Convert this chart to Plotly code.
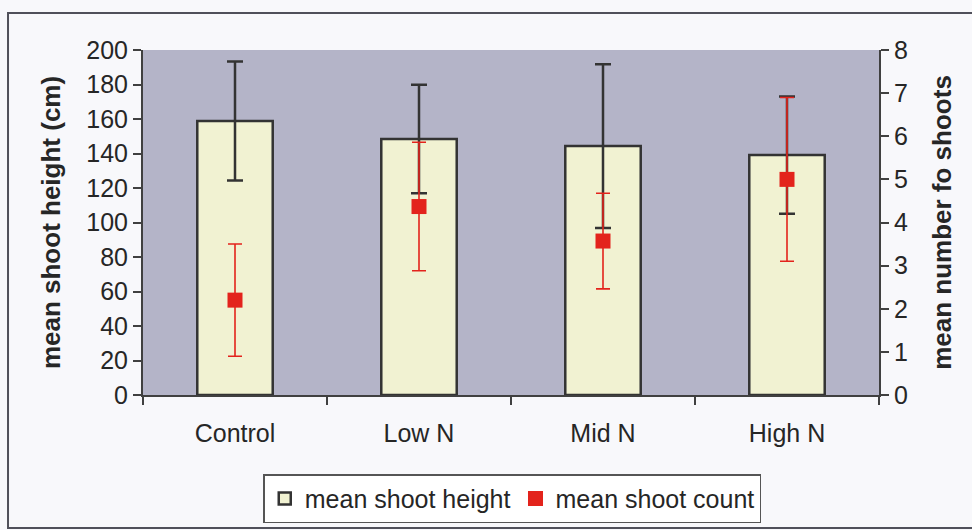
import plotly.graph_objects as go

# Treatments and measured means with their error ranges
treatments = ["Control", "Low N", "Mid N", "High N"]
height_mean = [158.8, 148.4, 144.3, 139.1]      # cm
height_err = [34.5, 31.4, 47.5, 34.0]
count_mean = [2.2, 4.37, 3.57, 5.0]             # shoots per plant
count_err = [1.3, 1.49, 1.11, 1.9]

left_ticks = list(range(0, 201, 20))
right_ticks = list(range(0, 9))

FONT = "Arial, Liberation Sans, sans-serif"
INK = "#262626"
AXIS = "#404040"
TICK_SIZE = 25
TITLE_SIZE = 26

fig = go.Figure()

fig.add_trace(go.Bar(
    x=treatments,
    y=height_mean,
    name="mean shoot height",
    marker=dict(color="#f1f2d2", line=dict(color="#333333", width=2.5)),
    error_y=dict(type="data", array=height_err, visible=True,
                 color="#333333", thickness=2.5, width=8),
    yaxis="y",
))

fig.add_trace(go.Scatter(
    x=treatments,
    y=count_mean,
    name="mean shoot count",
    mode="markers",
    marker=dict(symbol="square", size=15, color="#e3231c"),
    error_y=dict(type="data", array=count_err, visible=True,
                 color="#e3231c", thickness=1.6, width=7),
    yaxis="y2",
))

# Outer chart frame
fig.add_shape(type="rect", xref="paper", yref="paper",
              x0=-0.1834, x1=1.13, y0=-0.3855, y1=1.107,
              line=dict(color="#50505a", width=2), fillcolor="rgba(0,0,0,0)",
              layer="below")

fig.update_layout(
    width=972,
    height=530,
    margin=dict(l=143, r=93, t=50, b=135, autoexpand=False),
    paper_bgcolor="#f8f8fb",
    plot_bgcolor="#b4b4c8",
    font=dict(family=FONT, size=TICK_SIZE, color=INK),
    bargap=0.59,
    showlegend=True,
    legend=dict(
        orientation="h",
        xref="container", yref="container",
        x=0.527, xanchor="center",
        y=0.105, yanchor="top",
        bgcolor="#ffffff",
        bordercolor="#555555", borderwidth=1.5,
        font=dict(family=FONT, size=TICK_SIZE, color=INK),
        itemwidth=30,
        traceorder="normal",
    ),
    xaxis=dict(
        type="category",
        showline=True, linecolor=AXIS, linewidth=2,
        ticks="outside", ticklen=8, tickcolor=AXIS, tickwidth=1.5,
        tickson="boundaries",
        showgrid=False,
        ticklabelstandoff=15,
        tickfont=dict(family=FONT, size=TICK_SIZE, color=INK),
    ),
    yaxis=dict(
        range=[0, 200],
        tickvals=left_ticks,
        showline=True, linecolor=AXIS, linewidth=2,
        ticks="outside", ticklen=8, tickcolor=AXIS, tickwidth=1.5,
        showgrid=False, zeroline=False,
        tickfont=dict(family=FONT, size=TICK_SIZE, color=INK),
        title=dict(text="<b>mean shoot height (cm)</b>", standoff=18,
                   font=dict(family=FONT, size=TITLE_SIZE, color=INK)),
    ),
    yaxis2=dict(
        range=[0, 8],
        tickvals=right_ticks,
        overlaying="y",
        side="right",
        showline=True, linecolor=AXIS, linewidth=2,
        ticks="outside", ticklen=8, tickcolor=AXIS, tickwidth=1.5,
        showgrid=False, zeroline=False,
        tickfont=dict(family=FONT, size=TICK_SIZE, color=INK),
        title=dict(text="<b>mean number fo shoots</b>", standoff=26,
                   font=dict(family=FONT, size=TITLE_SIZE, color=INK)),
    ),
)

fig.write_html("out.html")
